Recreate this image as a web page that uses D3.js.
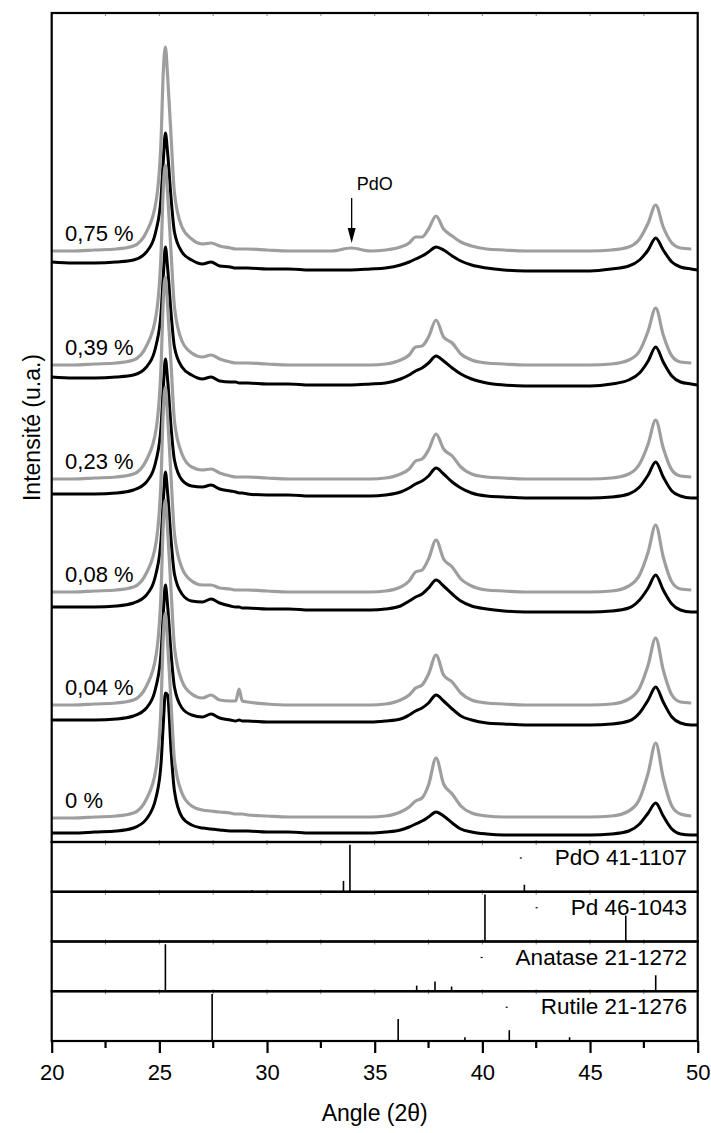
<!DOCTYPE html>
<html>
<head>
<meta charset="utf-8">
<script src="https://cdn.jsdelivr.net/npm/d3@7"></script>
<style>
  html, body { margin: 0; padding: 0; background: #fff; }
  svg { display: block; font-family: Arial, "Liberation Sans", sans-serif; }
</style>
</head>
<body>
<svg id="chart"></svg>
<script>
// XRD-Diagramme Pd/TiO2 mit Referenzkarten darunter

// gemeinsames Winkelraster (2θ) für alle Messkurven
const angles = [
  20, 21, 22, 23,
  23.8, 24.4, 24.85, 25.08,
  25.18, 25.28, 25.38, 25.55,
  25.7, 26.05, 26.5, 27.0,
  27.4, 27.8, 28.3, 28.55,
  28.7, 28.85, 29.1, 30,
  31, 32, 33, 33.9,
  34.8, 35.5, 36.2, 36.6,
  36.9, 37.2, 37.5, 37.85,
  38.2, 38.6, 39.0, 39.5,
  40.2, 41, 42, 43,
  44, 45, 46, 46.8,
  47.3, 47.7, 48.05, 48.4,
  48.8, 49.2, 49.7, 50
];

const samples = ["0,75 %", "0,39 %", "0,23 %", "0,08 %", "0,04 %", "0 %"];
// Versatz der Kurven (u.a.)
const grayOffset  = [591, 477, 363, 250, 137, 24];
const blackOffset = [580, 465, 348, 235, 122, 9];

// graue Kurven (u.a., relativ zum Versatz)
const g075 = [0,0,1,2, 5,19,50,112, 178,204,176,112, 58,24,12,7, 8,5,3,2, 2,2,2,1, 0,0,0,3,
  0,1,4,8, 14,14,22,35, 22,15,9,5, 2,1,0,0, 0,0,1,4, 12,28,46,24, 8,3,2,null];
const g039 = [0,0,1,2, 5,19,50,112, 175,200,172,110, 58,24,12,8, 10,6,3,2, 2,2,2,1, 0,0,0,0,
  0,1,5,10, 18,19,28,45, 28,22,11,5, 2,1,0,0, 0,0,1,5, 14,34,57,30, 9,3,2,null];
const g023 = [0,0,1,2, 5,19,50,114, 178,202,174,112, 58,25,12,9, 10,6,3,2, 2,2,2,1, 0,0,0,0,
  0,1,5,10, 18,20,29,45, 30,23,12,5, 2,1,0,0, 0,0,1,5, 15,35,59,31, 9,3,2,null];
const g008 = [0,0,1,2, 5,19,50,114, 180,205,176,112, 58,24,11,7, 7,4,3,2, 2,2,2,1, 0,0,0,0,
  0,1,5,11, 20,22,33,52, 33,25,13,6, 2,1,0,0, 0,0,1,6, 17,40,67,35, 10,3,2,null];
const g004 = [0,0,1,2, 5,19,50,114, 180,205,176,112, 58,24,11,7, 10,5,4,4, 16,4,3,1, 0,0,0,0,
  0,1,5,10, 17,20,31,50, 30,23,12,5, 2,1,0,0, 0,0,1,6, 17,40,67,35, 10,3,2,null];
const g000 = [0,0,1,2, 5,19,50,114, 180,205,176,112, 58,25,12,8, 7,6,5,4, 4,4,3,2, 1,1,1,1,
  1,2,6,11, 17,20,33,60, 34,24,12,5, 2,1,1,1, 1,1,2,7, 19,45,75,40, 12,4,2,null];

// schwarze Kurven
const b075 = [0,-1,-1,0, 2,10,32,65, 100,129,110,62, 30,10,2,-2, 0,-4,-5,-6, -6,-6,-6,-7, -7,-8,-8,-8,
  -7,-6,-3,0, 3,6,10,15, 12,6,1,-3, -6,-8,-9,-9, -9,-9,-7,-4, 2,12,24,12, 0,-5,-7,-8];
const b039 = [0,-1,-1,0, 2,10,32,65, 100,130,110,62, 30,10,2,-2, 0,-4,-5,-5, -6,-6,-6,-7, -7,-8,-8,-8,
  -7,-6,-2,2, 6,9,14,21, 16,9,3,-2, -6,-8,-9,-9, -9,-9,-7,-3, 4,16,30,15, 1,-5,-7,-8];
const b023 = [0,0,0,1, 4,12,34,68, 105,135,115,65, 34,14,8,7, 9,5,3,2, 1,1,0,-1, -1,-2,-2,-2,
  -2,-1,2,6, 10,13,18,26, 20,12,6,1, -2,-3,-4,-4, -4,-4,-3,0, 7,19,32,17, 3,-2,-4,-4];
const b008 = [0,0,0,1, 4,12,34,68, 105,135,115,65, 33,13,6,5, 8,4,1,0, 0,-1,-1,-2, -2,-3,-3,-3,
  -3,-2,1,6, 10,13,19,27, 21,13,6,1, -2,-4,-5,-5, -5,-5,-4,-1, 7,19,32,17, 3,-3,-5,-5];
const b004 = [0,0,0,1, 4,12,34,68, 105,135,115,65, 33,12,5,3, 6,2,0,-1, 0,-1,-1,-2, -2,-2,-2,-2,
  -2,-1,1,5, 9,12,17,25, 19,11,4,0, -3,-4,-5,-5, -5,-5,-4,-1, 7,20,33,18, 3,-3,-5,-5];
const b000 = [0,0,1,2, 5,14,36,70, 108,140,138,80, 42,16,8,5, 4,3,2,2, 2,2,2,1, 1,0,0,0,
  0,1,3,6, 9,12,16,21, 17,10,4,1, -1,-2,-2,-2, -2,-2,-1,2, 9,20,30,17, 4,-1,-2,-2];

const grayCurves  = [g075, g039, g023, g008, g004, g000];
const blackCurves = [b075, b039, b023, b008, b004, b000];

// Referenzkarten (JCPDS), relative Intensität
const refNames = ["PdO 41-1107", "Pd 46-1043", "Anatase 21-1272", "Rutile 21-1276"];
const pdoAngles = [29.3, 33.55, 33.85, 41.95];
const pdoInt    = [3, 23, 100, 15];
const pdAngles  = [40.12, 46.66];
const pdInt     = [100, 55];
const anataseAngles = [25.28, 36.95, 37.8, 38.57, 48.05];
const anataseInt    = [100, 12, 21, 10, 34];
const rutileAngles  = [27.45, 36.09, 39.19, 41.25, 44.05];
const rutileInt     = [100, 47, 8, 23, 8];
const refAngles = [pdoAngles, pdAngles, anataseAngles, rutileAngles];
const refInt    = [pdoInt, pdInt, anataseInt, rutileInt];

const xTicks = [20, 25, 30, 35, 40, 45, 50];
const xMinor = [22.5, 27.5, 32.5, 37.5, 42.5, 47.5];

// ---- Layout ----
const width = 711, height = 1133;
const plotLeft = 51.7, plotRight = 697.7, plotTop = 13;
const mainBottom = 842, frameBottom = 1041;
const panelH = (frameBottom - mainBottom) / 4;
const font = 22;

const svg = d3.select("#chart").attr("width", width).attr("height", height);

const x = d3.scaleLinear().domain([20, 50]).range([plotLeft, plotRight]);
const y = d3.scaleLinear().domain([0, 829]).range([mainBottom, plotTop]);

// Messkurven
function curve(values, off) {
  return d3.line()
    .defined(d => d[1] != null)
    .x(d => x(d[0]))
    .y(d => y(d[1] + off))
    .curve(d3.curveMonotoneX)(angles.map((a, i) => [a, values[i]]));
}

const curves = svg.append("g");
blackCurves.forEach((c, i) => {
  curves.append("path")
    .attr("d", curve(c, blackOffset[i]))
    .attr("fill", "none").attr("stroke", "#000")
    .attr("stroke-width", 3).attr("stroke-linejoin", "round");
});
grayCurves.forEach((c, i) => {
  curves.append("path")
    .attr("d", curve(c, grayOffset[i]))
    .attr("fill", "none").attr("stroke", "#9e9e9e")
    .attr("stroke-width", 3.2).attr("stroke-linejoin", "round");
});

// Beschriftung der Proben
svg.append("g").selectAll("text")
  .data(samples)
  .join("text")
  .attr("x", x(20.62))
  .attr("y", (d, i) => y(grayOffset[i] + 10))
  .attr("font-size", font)
  .text(d => d);

// PdO-Pfeil
const ax = x(33.93);
svg.append("line")
  .attr("x1", ax).attr("x2", ax)
  .attr("y1", y(grayOffset[0] + 53)).attr("y2", y(grayOffset[0] + 20))
  .attr("stroke", "#000").attr("stroke-width", 1.3);
svg.append("path")
  .attr("d", `M${ax},${y(grayOffset[0] + 8)} L${ax - 4},${y(grayOffset[0] + 23)} L${ax + 4},${y(grayOffset[0] + 23)} Z`)
  .attr("fill", "#000");
svg.append("text")
  .attr("x", ax + 5).attr("y", y(grayOffset[0] + 61))
  .attr("font-size", 18).text("PdO");

// Referenzpanels
refNames.forEach((name, k) => {
  const p0 = mainBottom + k * panelH, p1 = p0 + panelH;
  const yr = d3.scaleLinear().domain([0, 100]).range([p1, p1 - 47]);
  const g = svg.append("g");
  g.selectAll("line")
    .data(refAngles[k].map((a, i) => [a, refInt[k][i]]))
    .join("line")
    .attr("x1", d => x(d[0])).attr("x2", d => x(d[0]))
    .attr("y1", yr(0)).attr("y2", d => yr(d[1]))
    .attr("stroke", "#000").attr("stroke-width", 1.6);
  const t = g.append("text")
    .attr("x", 687).attr("y", p0 + 23)
    .attr("text-anchor", "end")
    .attr("font-size", 22.5)
    .text(name);
  const start = 687 - t.node().getComputedTextLength();
  g.append("line")
    .attr("x1", start - 35).attr("x2", start - 33)
    .attr("y1", p0 + 16).attr("y2", p0 + 16)
    .attr("stroke", "#000").attr("stroke-width", 1.2);
});

// kleine Innenstriche an allen Panelkanten
const edges = [plotTop, mainBottom, mainBottom + panelH, mainBottom + 2 * panelH, mainBottom + 3 * panelH];
const inner = svg.append("g").attr("stroke", "#888").attr("stroke-width", 1);
edges.forEach(e => {
  d3.range(22.5, 50, 2.5).forEach(a => {
    inner.append("line")
      .attr("x1", x(a)).attr("x2", x(a))
      .attr("y1", e - (e === plotTop ? 0 : 2)).attr("y2", e + 3);
  });
});

// Rahmen
svg.append("rect")
  .attr("x", plotLeft).attr("y", plotTop)
  .attr("width", plotRight - plotLeft).attr("height", mainBottom - plotTop)
  .attr("fill", "none").attr("stroke", "#000").attr("stroke-width", 2.2);
d3.range(4).forEach(k => {
  svg.append("rect")
    .attr("x", plotLeft).attr("y", mainBottom + k * panelH)
    .attr("width", plotRight - plotLeft).attr("height", panelH)
    .attr("fill", "none").attr("stroke", "#000").attr("stroke-width", 2.2);
});

// x-Achse
const xAxis = svg.append("g")
  .attr("transform", `translate(0,${frameBottom})`)
  .call(d3.axisBottom(x).tickValues(xTicks).tickSize(12).tickSizeOuter(0).tickPadding(11));
xAxis.select(".domain").remove();
xAxis.selectAll("line").attr("stroke-width", 2.2);
xAxis.selectAll("text").attr("font-size", font);
xAxis.attr("font-family", null);
svg.append("g")
  .attr("transform", `translate(0,${frameBottom})`)
  .selectAll("line").data(xMinor).join("line")
  .attr("x1", d => x(d)).attr("x2", d => x(d))
  .attr("y1", 0).attr("y2", 7)
  .attr("stroke", "#000").attr("stroke-width", 2.2);

// Achsentitel
svg.append("text")
  .attr("x", (plotLeft + plotRight) / 2).attr("y", 1121)
  .attr("text-anchor", "middle").attr("font-size", 23)
  .text("Angle (2θ)");
svg.append("text")
  .attr("transform", `translate(40,${(plotTop + mainBottom) / 2}) rotate(-90)`)
  .attr("text-anchor", "middle").attr("font-size", 23)
  .text("Intensité (u.a.)");
</script>
</body>
</html>
